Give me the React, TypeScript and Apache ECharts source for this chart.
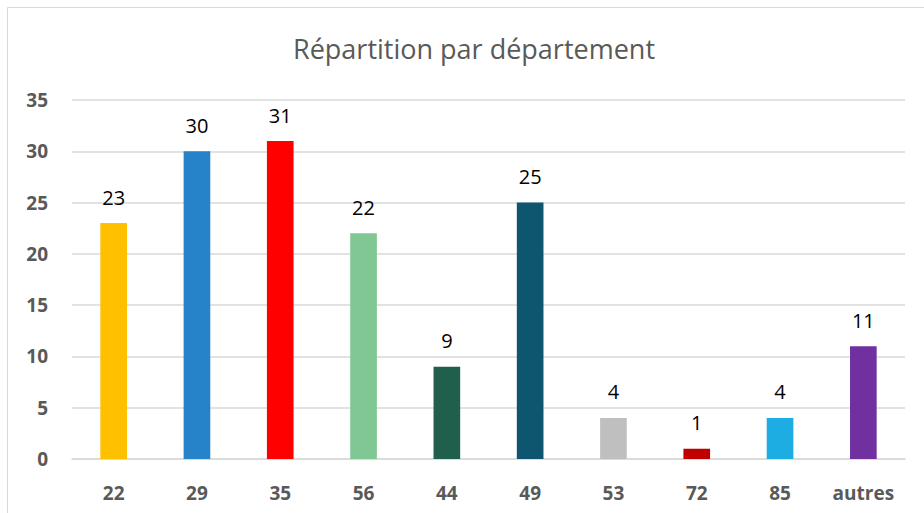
import React, { useEffect, useRef } from "react";
import * as echarts from "echarts";

const categories = ["22", "29", "35", "56", "44", "49", "53", "72", "85", "autres"];
const values = [23, 30, 31, 22, 9, 25, 4, 1, 4, 11];
const colors = ["#FFC000", "#2783C9", "#FF0000", "#80C793", "#1F5F4B", "#0E5670", "#BFBFBF", "#C00000", "#1DADE3", "#7030A0"];
const title = "Répartition par département";

export default function App() {
  const ref = useRef<HTMLDivElement>(null);
  useEffect(() => {
    if (!ref.current) return;
    const chart = echarts.init(ref.current, null, { renderer: "svg" });
    chart.setOption({
      animation: false,
      backgroundColor: "#ffffff",
      title: {
        text: title,
        left: 288,
        top: 30,
        textStyle: { fontFamily: "Open Sans", fontSize: 27, fontWeight: "normal", color: "#595959" },
      },
      graphic: [
        {
          type: "rect",
          shape: { x: 7.5, y: 7.5, width: 1000, height: 1000 },
          style: { fill: "none", stroke: "#D9D9D9", lineWidth: 1 },
          silent: true,
        },
      ],
      grid: { left: 72, right: 19, top: 100, bottom: 54, containLabel: false },
      xAxis: {
        type: "category",
        data: categories,
        axisLine: { show: true, lineStyle: { color: "#D9D9D9", width: 1.5 } },
        axisTick: { show: false },
        axisLabel: { color: "#595959", fontFamily: "Open Sans", fontWeight: "bold", fontSize: 19, margin: 24 },
      },
      yAxis: {
        type: "value",
        min: 0,
        max: 35,
        interval: 5,
        axisLine: { show: false },
        axisTick: { show: false },
        splitLine: { lineStyle: { color: "#D9D9D9", width: 1.5 } },
        axisLabel: { color: "#595959", fontFamily: "Open Sans", fontWeight: "bold", fontSize: 19, margin: 24 },
      },
      series: [
        {
          type: "bar",
          data: values.map((v, i) => ({ value: v, itemStyle: { color: colors[i] } })),
          barWidth: "32%",
          label: {
            show: true,
            position: "top",
            distance: 16,
            color: "#000000",
            fontFamily: "Open Sans",
            fontSize: 20,
          },
        },
      ],
    });
    return () => chart.dispose();
  }, []);
  return <div ref={ref} style={{ position: "fixed", left: 0, top: 0, width: 924, height: 513 }} />;
}
